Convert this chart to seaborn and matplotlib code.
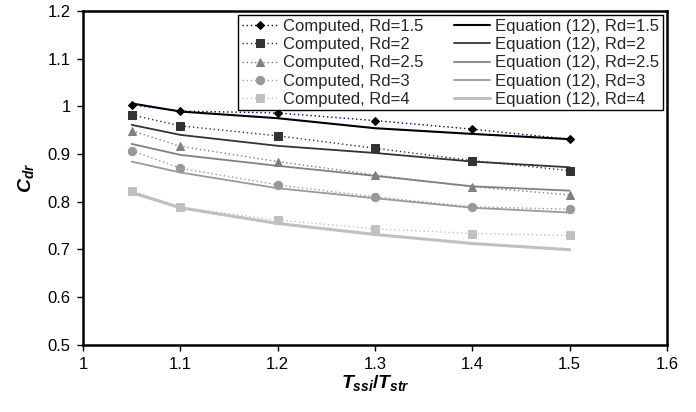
import pandas as pd
import seaborn as sns
import matplotlib as mpl
import matplotlib.pyplot as plt
import numpy as np
from matplotlib.ticker import FormatStrFormatter, MultipleLocator
mpl.use('agg')


period_ratio = [1.05, 1.1, 1.2, 1.3, 1.4, 1.5]
rd_values = ['1.5', '2', '2.5', '3', '4']

# computed values (markers + dotted lines)
computed = {
    '1.5': [1.003, 0.990, 0.986, 0.970, 0.952, 0.931],
    '2':   [0.982, 0.959, 0.938, 0.912, 0.886, 0.865],
    '2.5': [0.949, 0.916, 0.884, 0.856, 0.831, 0.814],
    '3':   [0.907, 0.870, 0.835, 0.810, 0.789, 0.784],
    '4':   [0.823, 0.788, 0.761, 0.743, 0.733, 0.729]}

# equation (12) curves
equation = {
    '1.5': [1.006, 0.989, 0.975, 0.954, 0.942, 0.931],
    '2':   [0.961, 0.940, 0.917, 0.902, 0.884, 0.872],
    '2.5': [0.921, 0.898, 0.875, 0.854, 0.832, 0.823],
    '3':   [0.884, 0.861, 0.828, 0.807, 0.787, 0.777],
    '4':   [0.819, 0.787, 0.754, 0.731, 0.712, 0.699]}


def build_df():
    rows = []
    for rd in rd_values:
        for x, yc, ye in zip(period_ratio, computed[rd], equation[rd]):
            rows.append({'rd': rd, 'x': x, 'computed': yc, 'equation': ye})
    return pd.DataFrame(rows)


def saveplot(df, path):
    sns.set_style('ticks')
    plt.rcParams['font.family'] = ['Liberation Sans', 'DejaVu Sans']
    plt.rcParams['mathtext.fontset'] = 'custom'
    plt.rcParams['mathtext.it'] = 'Liberation Sans:italic:bold'
    plt.rcParams['mathtext.rm'] = 'Liberation Sans:bold'
    plt.rcParams['mathtext.bf'] = 'Liberation Sans:bold'

    f, ax = plt.subplots(figsize=(6.96, 4.12), dpi=100)
    f.subplots_adjust(left=0.1193, bottom=0.1638, right=0.9583, top=0.9733)

    marker_color = {'1.5': 'black', '2': '#333333', '2.5': '#808080',
                    '3': '#999999', '4': '#c0c0c0'}
    dot_color = {'1.5': '#000080', '2': '#333333', '2.5': '#808080',
                 '3': '#999999', '4': '#c0c0c0'}
    markers = {'1.5': 'D', '2': 's', '2.5': '^', '3': 'o', '4': 's'}
    msize = {'1.5': 4.5, '2': 5.5, '2.5': 5.5, '3': 6, '4': 5.5}
    eq_color = {'1.5': 'black', '2': '#333333', '2.5': '#808080',
                '3': '#9a9a9a', '4': '#c0c0c0'}
    eq_width = {'1.5': 1.5, '2': 1.3, '2.5': 1.3, '3': 1.3, '4': 2.2}

    comp_handles = []
    eq_handles = []
    for rd in rd_values:
        sub = df[df['rd'] == rd]
        sns.lineplot(data=sub, x='x', y='equation', ax=ax,
                     color=eq_color[rd], linewidth=eq_width[rd],
                     label='Equation (12), Rd=' + rd, zorder=2)
        eq_handles.append(ax.get_lines()[-1])
    for rd in rd_values:
        sub = df[df['rd'] == rd]
        sns.lineplot(data=sub, x='x', y='computed', ax=ax,
                     color=dot_color[rd], linestyle=(0, (1, 2)), linewidth=1,
                     marker=markers[rd], markersize=msize[rd],
                     markerfacecolor=marker_color[rd],
                     markeredgecolor=marker_color[rd],
                     label='Computed, Rd=' + rd, zorder=3)
        comp_handles.append(ax.get_lines()[-1])

    ax.set_xlim(1, 1.6)
    ax.set_ylim(0.5, 1.2)
    ax.xaxis.set_major_locator(MultipleLocator(0.1))
    ax.yaxis.set_major_locator(MultipleLocator(0.1))
    ax.xaxis.set_major_formatter(FormatStrFormatter('%g'))
    ax.yaxis.set_major_formatter(FormatStrFormatter('%g'))
    ax.tick_params(direction='out', length=4, width=1, labelsize=12,
                   colors='black', pad=5)

    for s in ax.spines.values():
        s.set_visible(True)
        s.set_linewidth(1.8)
        s.set_color('black')

    ax.set_xlabel(r'$T_{ssi}/T_{str}$', fontsize=14, color='black', labelpad=1)
    ax.set_ylabel(r'$C_{dr}$', fontsize=14, color='black', labelpad=8)

    leg = ax.legend(comp_handles + eq_handles,
                    [h.get_label() for h in comp_handles + eq_handles],
                    ncol=2, loc='upper right', bbox_to_anchor=(0.993, 0.987),
                    borderaxespad=0, fontsize=12, frameon=True, fancybox=False,
                    edgecolor='black', framealpha=1, labelspacing=0.2,
                    handlelength=2.2, handletextpad=0.3, columnspacing=1.8,
                    borderpad=0.2)
    leg.get_frame().set_linewidth(1)

    f.savefig(path)
    return


saveplot(build_df(), 'out.png')
